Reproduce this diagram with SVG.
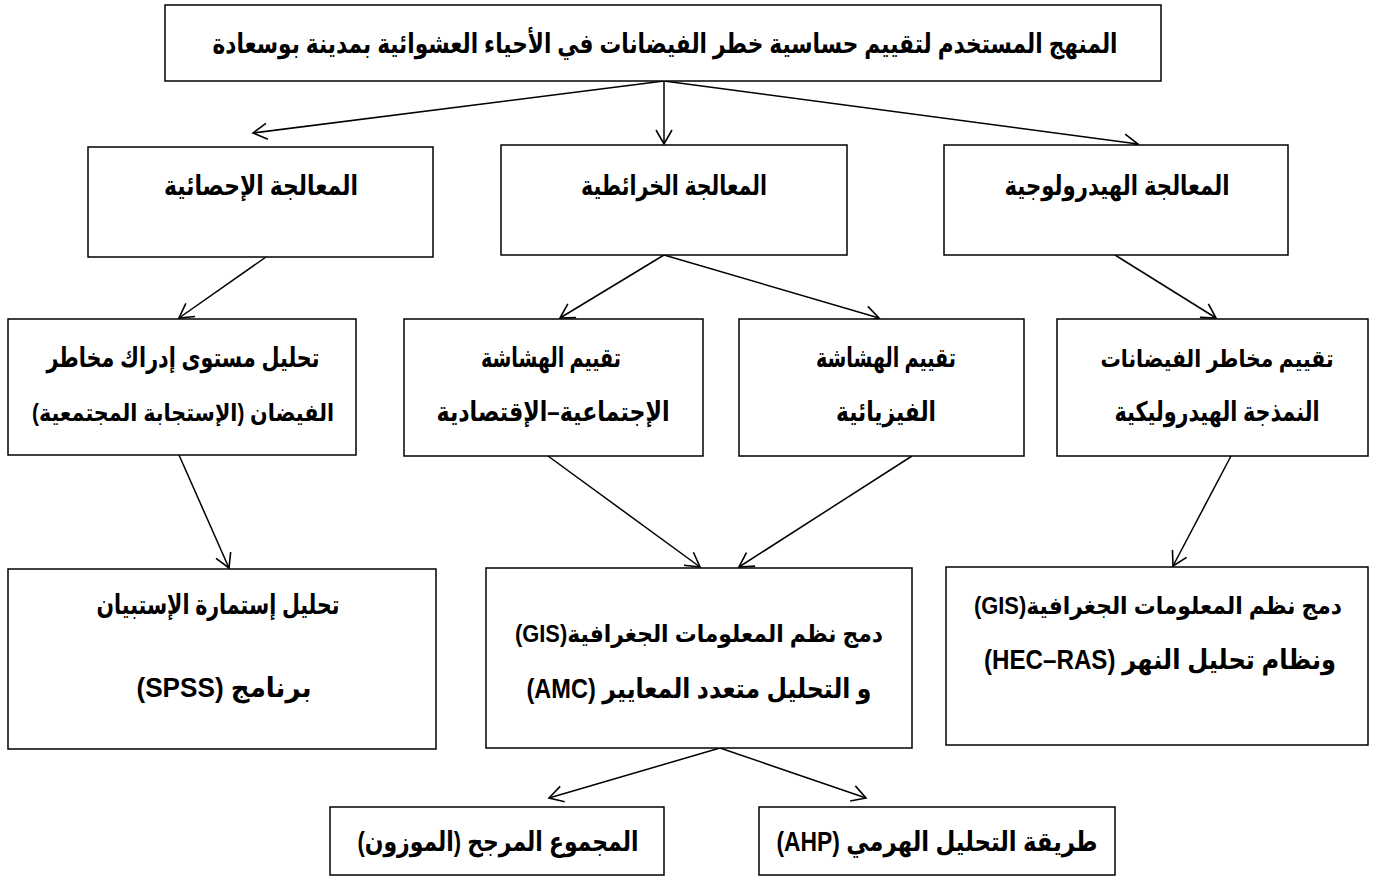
<svg xmlns="http://www.w3.org/2000/svg" width="1383" height="880" viewBox="0 0 1383 880">
<defs>
<marker id="ah" viewBox="-16 -10 18 20" refX="0" refY="0" markerWidth="18" markerHeight="20" markerUnits="userSpaceOnUse" orient="auto">
<path d="M-14,-8 L0,0 L-14,8" fill="none" stroke="#000" stroke-width="1.6"/>
</marker>
<style>
.b{fill:#fff;stroke:#000;stroke-width:1.5}
.t{font-family:"Liberation Sans","DejaVu Sans",sans-serif;font-weight:bold;font-size:27px;fill:#000;text-anchor:middle;direction:rtl}
.s{font-size:24px}
#connectors line{stroke:#000;stroke-width:1.5;marker-end:url(#ah)}
</style>
</defs>
<rect width="1383" height="880" fill="#fff"/>
<g id="connectors">
<line x1="664" y1="81" x2="253" y2="133"/>
<line x1="664" y1="81" x2="664" y2="144"/>
<line x1="664" y1="81" x2="1138" y2="144"/>
<line x1="266" y1="257" x2="179" y2="318"/>
<line x1="664" y1="255" x2="560" y2="318"/>
<line x1="664" y1="255" x2="879" y2="318"/>
<line x1="1115" y1="255" x2="1216" y2="318"/>
<line x1="179" y1="455" x2="229" y2="568"/>
<line x1="548" y1="456" x2="700" y2="567"/>
<line x1="912" y1="456" x2="739" y2="567"/>
<line x1="1231" y1="456" x2="1173" y2="566"/>
<line x1="720" y1="748" x2="549" y2="798"/>
<line x1="720" y1="748" x2="866" y2="798"/>
</g>
<g id="n-top"><rect class="b" x="165" y="5" width="996" height="76"/><text class="t" x="665" y="53" textLength="905" lengthAdjust="spacingAndGlyphs">المنهج المستخدم لتقييم حساسية خطر الفيضانات في الأحياء العشوائية بمدينة بوسعادة</text></g>
<g id="n-stat"><rect class="b" x="88" y="147" width="345" height="110"/><text class="t" x="261" y="195" textLength="194" lengthAdjust="spacingAndGlyphs">المعالجة الإحصائية</text></g>
<g id="n-carto"><rect class="b" x="501" y="145" width="346" height="110"/><text class="t" x="674" y="195" textLength="186" lengthAdjust="spacingAndGlyphs">المعالجة الخرائطية</text></g>
<g id="n-hydro"><rect class="b" x="944" y="145" width="344" height="110"/><text class="t" x="1117" y="195" textLength="225" lengthAdjust="spacingAndGlyphs">المعالجة الهيدرولوجية</text></g>
<g id="n-a"><rect class="b" x="8" y="319" width="348" height="136"/><text class="t" x="183" y="367" textLength="273" lengthAdjust="spacingAndGlyphs">تحليل مستوى إدراك مخاطر</text><text class="t s" x="183" y="421" textLength="302" lengthAdjust="spacingAndGlyphs">الفيضان (الإستجابة المجتمعية)</text></g>
<g id="n-b"><rect class="b" x="404" y="319" width="299" height="137"/><text class="t" x="551" y="367" textLength="140" lengthAdjust="spacingAndGlyphs">تقييم الهشاشة</text><text class="t" x="553" y="421" textLength="233" lengthAdjust="spacingAndGlyphs">الإجتماعية–الإقتصادية</text></g>
<g id="n-c"><rect class="b" x="739" y="319" width="285" height="137"/><text class="t" x="886" y="367" textLength="140" lengthAdjust="spacingAndGlyphs">تقييم الهشاشة</text><text class="t" x="886" y="421" textLength="100" lengthAdjust="spacingAndGlyphs">الفيزيائية</text></g>
<g id="n-d"><rect class="b" x="1057" y="319" width="311" height="137"/><text class="t s" x="1217" y="367" textLength="233" lengthAdjust="spacingAndGlyphs">تقييم مخاطر الفيضانات</text><text class="t" x="1217" y="421" textLength="205" lengthAdjust="spacingAndGlyphs">النمذجة الهيدروليكية</text></g>
<g id="n-e"><rect class="b" x="8" y="569" width="428" height="180"/><text class="t" x="218" y="614" textLength="243" lengthAdjust="spacingAndGlyphs">تحليل إستمارة الإستبيان</text><text class="t" x="224" y="697" textLength="175" lengthAdjust="spacingAndGlyphs">برنامج (SPSS)</text></g>
<g id="n-f"><rect class="b" x="486" y="568" width="426" height="180"/><text class="t s" x="699" y="642" textLength="368" lengthAdjust="spacingAndGlyphs">دمج نظم المعلومات الجغرافية(GIS)</text><text class="t" x="699" y="698" textLength="345" lengthAdjust="spacingAndGlyphs">و التحليل متعدد المعايير (AMC)</text></g>
<g id="n-g"><rect class="b" x="946" y="567" width="422" height="178"/><text class="t s" x="1158" y="614" textLength="368" lengthAdjust="spacingAndGlyphs">دمج نظم المعلومات الجغرافية(GIS)</text><text class="t" x="1160" y="669" textLength="352" lengthAdjust="spacingAndGlyphs">ونظام تحليل النهر (HEC–RAS)</text></g>
<g id="n-h"><rect class="b" x="330" y="807" width="334" height="68"/><text class="t" x="498" y="851" textLength="281" lengthAdjust="spacingAndGlyphs">المجموع المرجح (الموزون)</text></g>
<g id="n-i"><rect class="b" x="759" y="807" width="356" height="68"/><text class="t" x="937" y="851" textLength="321" lengthAdjust="spacingAndGlyphs">طريقة التحليل الهرمي (AHP)</text></g>
</svg>
